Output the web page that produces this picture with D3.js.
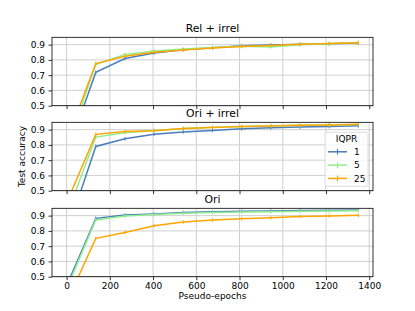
<!DOCTYPE html>
<html>
<head>
<meta charset="utf-8">
<script src="https://cdn.jsdelivr.net/npm/d3@7"></script>
<style>
body { margin:0; background:#fff; }
text { font-family: "DejaVu Sans", sans-serif; fill:#000; }
</style>
</head>
<body>
<script>
// pseudo-epoch at each evaluation
var epochs = [0,135,270,405,540,675,810,945,1080,1215,1350];
var panelTitles = ['Rel + irrel','Ori + irrel','Ori'];
var seriesNames = ['1','5','25'];
var seriesColors = ['#4a7ebb','#90ee90','#ffa500'];
var xTicks = [0,200,400,600,800,1000,1200,1400];
var yTicks = [0.5,0.6,0.7,0.8,0.9];

// Rel + irrel
var relIQPR1  = [0.18,0.718,0.809,0.845,0.867,0.880,0.893,0.898,0.902,0.906,0.910];
var relIQPR5  = [0.22,0.770,0.836,0.858,0.872,0.882,0.890,0.885,0.900,0.905,0.914];
var relIQPR25 = [0.27,0.776,0.824,0.850,0.865,0.878,0.888,0.895,0.902,0.908,0.913];
// Ori + irrel
var oriIrrIQPR1  = [0.22,0.790,0.840,0.869,0.885,0.895,0.905,0.912,0.917,0.921,0.925];
var oriIrrIQPR5  = [0.34,0.851,0.880,0.895,0.908,0.916,0.921,0.925,0.928,0.930,0.934];
var oriIrrIQPR25 = [0.42,0.869,0.887,0.893,0.908,0.914,0.920,0.924,0.928,0.931,0.935];
// Ori
var oriIQPR1  = [0.44,0.882,0.904,0.911,0.920,0.925,0.928,0.931,0.933,0.935,0.937];
var oriIQPR5  = [0.42,0.871,0.898,0.908,0.915,0.920,0.924,0.926,0.928,0.930,0.932];
var oriIQPR25 = [0.33,0.751,0.790,0.834,0.858,0.871,0.880,0.886,0.894,0.898,0.902];

var panelData = [
  [relIQPR1, relIQPR5, relIQPR25],
  [oriIrrIQPR1, oriIrrIQPR5, oriIrrIQPR25],
  [oriIQPR1, oriIQPR5, oriIQPR25]
];

var width = 415, height = 311;
var margin = {left:52, right:42};
var plotW = width - margin.left - margin.right;
var plotH = 68.4;
var panelTops = [37.3, 122.3, 208.3];

var svg = d3.select("body").append("svg")
    .attr("width", width)
    .attr("height", height);

var x = d3.scaleLinear().domain([-67.5,1417.5]).range([0,plotW]);
var y = d3.scaleLinear().domain([0.5,0.948]).range([plotH,0]);

var line = d3.line()
    .x(function(d,i){ return x(epochs[i]); })
    .y(function(d){ return y(d); });

panelData.forEach(function(series, p){
  var g = svg.append("g")
      .attr("transform","translate("+margin.left+","+panelTops[p]+")");

  g.append("clipPath").attr("id","clip"+p)
    .append("rect").attr("width",plotW).attr("height",plotH);

  // grid
  g.selectAll(".gx").data(xTicks).enter().append("line")
      .attr("x1",function(d){ return x(d); }).attr("x2",function(d){ return x(d); })
      .attr("y1",0).attr("y2",plotH)
      .attr("stroke","#cfcfcf").attr("stroke-width",1);
  g.selectAll(".gy").data(yTicks).enter().append("line")
      .attr("x1",0).attr("x2",plotW)
      .attr("y1",function(d){ return y(d); }).attr("y2",function(d){ return y(d); })
      .attr("stroke","#cfcfcf").attr("stroke-width",1);

  // lines with small error-bar ticks
  var lines = g.append("g").attr("clip-path","url(#clip"+p+")");
  series.forEach(function(vals, s){
    lines.append("path")
        .attr("d", line(vals))
        .attr("fill","none")
        .attr("stroke",seriesColors[s])
        .attr("stroke-width",1.5);
    lines.selectAll(".m"+s).data(vals).enter().append("line")
        .attr("x1",function(d,i){ return x(epochs[i]); })
        .attr("x2",function(d,i){ return x(epochs[i]); })
        .attr("y1",function(d){ return y(d)-1.8; })
        .attr("y2",function(d){ return y(d)+1.8; })
        .attr("stroke",seriesColors[s])
        .attr("stroke-width",1);
  });

  // axes
  var xAxis = d3.axisBottom(x).tickValues(xTicks).tickSize(3.5).tickPadding(2).tickFormat(d3.format("d"));
  if (p < 2) xAxis.tickFormat("");
  var yAxis = d3.axisLeft(y).tickValues(yTicks).tickSize(3.5).tickPadding(3.5).tickFormat(d3.format(".1f"));

  var gx = g.append("g").attr("transform","translate(0,"+plotH+")").call(xAxis);
  var gy = g.append("g").call(yAxis);
  [gx, gy].forEach(function(a){
    a.select(".domain").remove();
    a.selectAll("line").attr("stroke","#000").attr("stroke-width",0.8);
    a.selectAll("text").attr("font-size","9px").attr("fill","#000")
        .style("font-family","DejaVu Sans, sans-serif");
  });

  // frame
  g.append("rect").attr("width",plotW).attr("height",plotH)
      .attr("fill","none").attr("stroke","#000").attr("stroke-width",0.8);

  g.append("text")
      .attr("x",plotW/2).attr("y",-5)
      .attr("text-anchor","middle")
      .attr("font-size","10.8px")
      .text(panelTitles[p]);

  // legend on middle panel
  if (p === 1) {
    var lg = g.append("g").attr("transform","translate("+(plotW-48)+",10)");
    lg.append("rect").attr("width",43).attr("height",54).attr("rx",2)
        .attr("fill","#fff").attr("fill-opacity",0.8)
        .attr("stroke","#d6d6d6").attr("stroke-width",0.8);
    lg.append("text").attr("x",21.5).attr("y",10).attr("text-anchor","middle")
        .attr("font-size","9px").text("IQPR");
    seriesNames.forEach(function(n, s){
      var ly = 19.5 + s*13.3;
      lg.append("line").attr("x1",3).attr("x2",22).attr("y1",ly).attr("y2",ly)
          .attr("stroke",seriesColors[s]).attr("stroke-width",1.5);
      lg.append("line").attr("x1",12.5).attr("x2",12.5).attr("y1",ly-3).attr("y2",ly+3)
          .attr("stroke",seriesColors[s]).attr("stroke-width",1);
      lg.append("text").attr("x",29).attr("y",ly+3.2)
          .attr("font-size","9px").text(n);
    });
  }
});

svg.append("text")
    .attr("transform","translate(25,"+(panelTops[1]+plotH/2)+") rotate(-90)")
    .attr("text-anchor","middle")
    .attr("font-size","9px")
    .text("Test accuracy");

svg.append("text")
    .attr("x",margin.left+plotW/2).attr("y",298.5)
    .attr("text-anchor","middle")
    .attr("font-size","9px")
    .text("Pseudo-epochs");
</script>
</body>
</html>
